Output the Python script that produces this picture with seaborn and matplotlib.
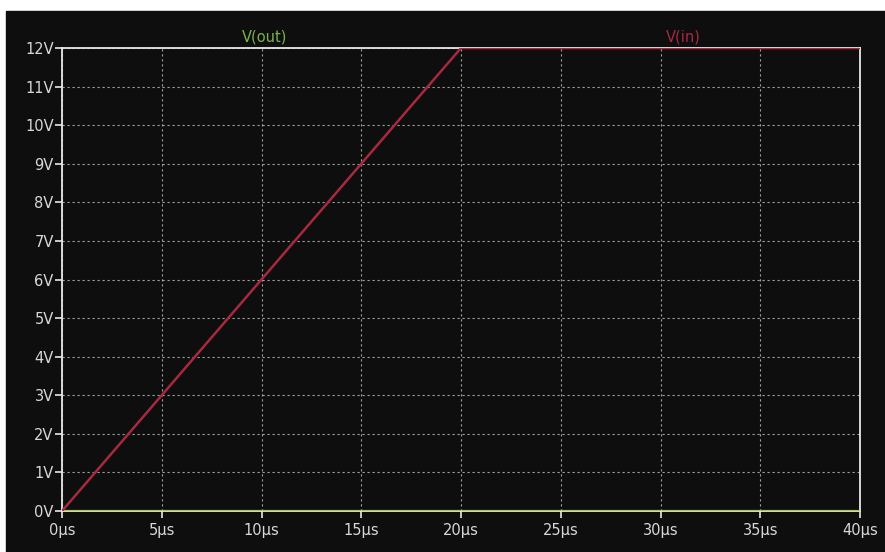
import matplotlib
matplotlib.use("Agg")
import matplotlib.pyplot as plt
from matplotlib.patches import Rectangle
import numpy as np
import pandas as pd
import seaborn as sns

# waveform data (time in µs, voltage in V)
t_in = [0, 20, 40]
v_in = [0, 12, 12]
t_out = [0, 40]
v_out = [0, 0]

x_ticks = [0, 5, 10, 15, 20, 25, 30, 35, 40]
y_ticks = list(range(0, 13))
x_labels = [f"{t}µs" for t in x_ticks]
y_labels = [f"{v}V" for v in y_ticks]

bg = "#0e0e0e"
fg = "#d8d8d8"
red = "#a8283f"
green = "#a6cc3c"

sns.set_style("dark")
plt.rcParams["font.family"] = ["DejaVu Sans"]

fig = plt.figure(figsize=(8.85, 5.52), dpi=100, facecolor="white")
# black plotting panel with thin white strip at top/left
fig.patches.append(Rectangle((6 / 885, 0), 1, (552 - 11) / 552,
                             transform=fig.transFigure, color=bg, zorder=-1))
ax = fig.add_axes([62 / 885, 1 - 511 / 552, (860 - 62) / 885, (511 - 48) / 552])
ax.set_facecolor(bg)

df_in = pd.DataFrame({"t": t_in, "v": v_in})
df_out = pd.DataFrame({"t": t_out, "v": v_out})
sns.lineplot(data=df_out, x="t", y="v", ax=ax, color=green, lw=1.6, zorder=5)
sns.lineplot(data=df_in, x="t", y="v", ax=ax, color=red, lw=1.8, zorder=6)

ax.set_xlim(0, 40)
ax.set_ylim(0, 12)
ax.set_xticks(x_ticks)
ax.set_xticklabels(x_labels)
ax.set_yticks(y_ticks)
ax.set_yticklabels(y_labels)
ax.set_xlabel("")
ax.set_ylabel("")

ax.grid(True, color="#c4c4c4", linestyle=(0, (2, 2.5)), linewidth=0.8, alpha=0.8)
for s in ax.spines.values():
    s.set_visible(True)
    s.set_color("#e8e8e8")
    s.set_linewidth(1.3)

ax.tick_params(axis="both", colors="#e8e8e8", labelcolor=fg, labelsize=10.5,
               length=5, width=1.2, direction="out", pad=1,
               bottom=True, left=True)
ax.tick_params(axis="x", pad=4)

fig.text(265 / 885, 1 - 37 / 552, "V(out)", color="#78b44c", fontsize=10.5,
         ha="center", va="center")
fig.text(683 / 885, 1 - 37 / 552, "V(in)", color=red, fontsize=10.5,
         ha="center", va="center")

fig.savefig("out.png", dpi=100, facecolor=fig.get_facecolor())
